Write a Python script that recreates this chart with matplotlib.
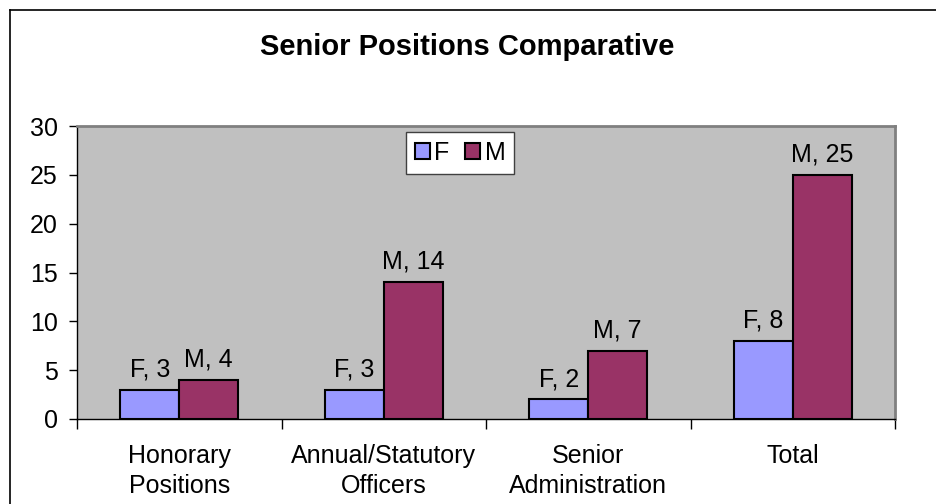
import matplotlib
matplotlib.use("Agg")
import matplotlib.pyplot as plt
import numpy as np
from matplotlib.lines import Line2D

categories = ["Honorary\nPositions", "Annual/Statutory\nOfficers", "Senior\nAdministration", "Total"]
female = [3, 3, 2, 8]
male = [4, 14, 7, 25]
yticks = [0, 5, 10, 15, 20, 25, 30]

plt.rcParams['font.family'] = ['Liberation Sans', 'DejaVu Sans']

FS = 18
W, H = 936, 504
fig = plt.figure(figsize=(W/100, H/100), dpi=100)
fig.patch.set_facecolor('white')

# outer chart border (left and top visible)
fig.add_artist(Line2D([10/W, 10/W], [0, 1 - 10/H], color='black', lw=1.2, transform=fig.transFigure))
fig.add_artist(Line2D([10/W, 1], [1 - 10/H, 1 - 10/H], color='black', lw=1.2, transform=fig.transFigure))

left, right, top, bottom = 77, 895, 126, 419
ax = fig.add_axes([left/W, 1 - bottom/H, (right-left)/W, (bottom-top)/H])
ax.set_facecolor('#C0C0C0')

x = np.arange(len(categories))
bw = 0.288
ax.bar(x - bw/2, female, bw, color='#9999FF', edgecolor='black', linewidth=1.5, label='F')
ax.bar(x + bw/2, male, bw, color='#993366', edgecolor='black', linewidth=1.5, label='M')

for xi, v in zip(x, female):
    ax.annotate(f"F, {v}", (xi - bw/2, v), xytext=(0, 6), textcoords='offset points',
                ha='center', va='bottom', fontsize=FS)
for xi, v in zip(x, male):
    ax.annotate(f"M, {v}", (xi + bw/2, v), xytext=(0, 6), textcoords='offset points',
                ha='center', va='bottom', fontsize=FS)

ax.set_xlim(-0.5, len(categories) - 0.5)
ax.set_ylim(0, 30)
ax.set_yticks(yticks)
ax.set_yticklabels([str(t) for t in yticks], fontsize=FS)
ax.set_xticks(np.arange(len(categories) + 1) - 0.5)
ax.set_xticklabels([])
ax.set_xticks(x, minor=True)
ax.set_xticklabels(categories, minor=True, fontsize=FS, linespacing=1.3)
ax.tick_params(axis='x', which='minor', length=0, pad=18)
ax.tick_params(axis='x', which='major', length=7, width=1, direction='out', color='black')
ax.tick_params(axis='y', length=6, width=1, direction='out', pad=8)

for s in ['left', 'bottom']:
    ax.spines[s].set_color('black')
    ax.spines[s].set_linewidth(1)
for s in ['top', 'right']:
    ax.spines[s].set_color('#808080')
    ax.spines[s].set_linewidth(2)

leg = ax.legend(loc='center', bbox_to_anchor=((460-left)/(right-left), 1 - (153-top)/(bottom-top)),
                ncol=2, frameon=True, fancybox=False, fontsize=FS, handlelength=0.6,
                handleheight=0.6, handletextpad=0.2, columnspacing=0.6, borderpad=0.35,
                borderaxespad=0)
leg.get_frame().set_edgecolor('#404040')
leg.get_frame().set_linewidth(1)
leg.get_frame().set_facecolor('white')
leg.get_frame().set_alpha(1)

fig.text(467/W, 1 - 47/H, "Senior Positions Comparative", ha='center', va='center',
         fontsize=21, fontweight='bold')

fig.savefig("out.png", dpi=100, facecolor='white')
